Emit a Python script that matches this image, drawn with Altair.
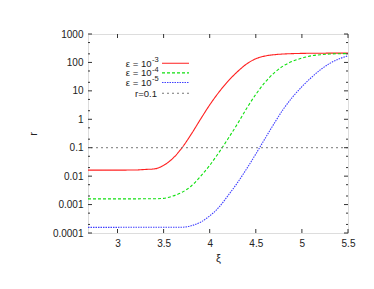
import altair as alt
import pandas as pd

# ---- data ----
x_red = [2.68, 3.0, 3.2, 3.3, 3.4, 3.5, 3.6, 3.7, 3.8, 3.9, 4.0, 4.1, 4.2, 4.3, 4.4, 4.5, 4.6, 4.7, 4.8, 4.9, 5.0, 5.2, 5.5]
r_red = [0.0163, 0.0163, 0.0165, 0.0172, 0.018, 0.024, 0.042, 0.1, 0.3, 1.0, 3.2, 9, 22, 47, 88, 135, 168, 187, 198, 204, 208, 211, 213]

x_green = [2.68, 3.4, 3.5, 3.6, 3.7, 3.8, 3.9, 4.0, 4.1, 4.2, 4.3, 4.4, 4.5, 4.6, 4.7, 4.8, 4.9, 5.0, 5.1, 5.2, 5.3, 5.4, 5.5]
r_green = [0.00158, 0.0016, 0.00165, 0.002, 0.0027, 0.0045, 0.0098, 0.024, 0.068, 0.21, 0.68, 2.4, 7.5, 20, 43, 76, 110, 142, 170, 187, 197, 202, 205]

x_blue = [2.68, 3.7, 3.8, 3.9, 4.0, 4.1, 4.2, 4.3, 4.4, 4.5, 4.6, 4.7, 4.8, 4.9, 5.0, 5.1, 5.2, 5.3, 5.4, 5.5]
r_blue = [0.000158, 0.00016, 0.00018, 0.00024, 0.0004, 0.0008, 0.0021, 0.0058, 0.018, 0.06, 0.21, 0.72, 2.3, 6.1, 14, 29, 55, 92, 132, 170]

series_names = ["ε = 10⁻³", "ε = 10⁻⁴", "ε = 10⁻⁵"]
legend_base = ["ε = 10", "ε = 10", "ε = 10"]
legend_exp = ["-3", "-4", "-5"]
series_colors = ["#ff2020", "#10e010", "#4040ff"]
series_dash = [[1, 0], [3, 2], [1.5, 1]]
ref_label = "r=0.1"
ref_value = 0.1

y_major = [0.0001, 0.001, 0.01, 0.1, 1, 10, 100, 1000]
y_minor = [m * d for d in [0.0001, 0.001, 0.01, 0.1, 1, 10, 100] for m in (2, 5)]
x_major = [3, 3.5, 4, 4.5, 5, 5.5]
x_domain = [2.68, 5.5]
y_domain = [0.0001, 1000]

W, H = 260, 199
FONT = "Liberation Sans"

rows = []
for name, xs_, ys_ in zip(series_names, [x_red, x_green, x_blue], [r_red, r_green, r_blue]):
    for a, b in zip(xs_, ys_):
        rows.append({"xi": a, "r": b, "s": name})
df = pd.DataFrame(rows)

xs = alt.Scale(domain=x_domain, nice=False, zero=False)
ys = alt.Scale(type="log", domain=y_domain, nice=False)

xaxis = alt.Axis(values=x_major, format="~g", ticks=False, domain=False, grid=False,
                 labelFlush=False, labelOverlap=False,
                 labelFontSize=10, labelFont=FONT, labelColor="#222", labelPadding=5,
                 title="ξ", titleFont=FONT, titleFontSize=11, titleFontWeight="normal",
                 titlePadding=4, titleColor="#222")
yaxis = alt.Axis(values=y_major, format="~g", ticks=False, domain=False, grid=False,
                 labelFlush=False, labelOverlap=False,
                 labelFontSize=10, labelFont=FONT, labelColor="#222", labelPadding=5,
                 title="r", titleFont=FONT, titleFontSize=11, titleFontWeight="normal",
                 titlePadding=14, titleColor="#222")

lines = alt.Chart(df).mark_line(strokeWidth=1.1, clip=True, interpolate="monotone").encode(
    x=alt.X("xi:Q", scale=xs, axis=xaxis),
    y=alt.Y("r:Q", scale=ys, axis=yaxis),
    color=alt.Color("s:N", scale=alt.Scale(domain=series_names, range=series_colors), legend=None),
    strokeDash=alt.StrokeDash("s:N", scale=alt.Scale(domain=series_names, range=series_dash), legend=None),
)

hline = alt.Chart(pd.DataFrame({"r": [ref_value]})).mark_rule(
    color="#777", strokeWidth=1, strokeDash=[2, 3]).encode(
    y=alt.Y("r:Q", scale=ys))

ydf_major = pd.DataFrame({"r": y_major})
ydf_minor = pd.DataFrame({"r": y_minor})
xdf_major = pd.DataFrame({"xi": x_major})

def yticks(d, length):
    left = alt.Chart(d).mark_rule(color="#333", strokeWidth=1).encode(
        y=alt.Y("r:Q", scale=ys), x=alt.value(0), x2=alt.value(length))
    right = alt.Chart(d).mark_rule(color="#333", strokeWidth=1).encode(
        y=alt.Y("r:Q", scale=ys), x=alt.value(W - length), x2=alt.value(W))
    return [left, right]

def xticks(d, length):
    bottom = alt.Chart(d).mark_rule(color="#333", strokeWidth=1).encode(
        x=alt.X("xi:Q", scale=xs), y=alt.value(H - length), y2=alt.value(H))
    top = alt.Chart(d).mark_rule(color="#333", strokeWidth=1).encode(
        x=alt.X("xi:Q", scale=xs), y=alt.value(0), y2=alt.value(length))
    return [bottom, top]

tick_layers = yticks(ydf_major, 4) + yticks(ydf_minor, 2) + xticks(xdf_major, 4)

# legend (gnuplot style: label right-aligned, sample to its right)
legend_layers = []
one = pd.DataFrame({"k": [0]})
for i in range(4):
    yy = 29.3 + i * 9.6
    if i < 3:
        col, dsh = series_colors[i], series_dash[i]
        legend_layers.append(alt.Chart(one).mark_text(
            align="right", baseline="middle", font=FONT, fontSize=9.5, color="#222").encode(
            x=alt.value(63.5), y=alt.value(yy + 0.5), text=alt.value(legend_base[i])))
        legend_layers.append(alt.Chart(one).mark_text(
            align="left", baseline="middle", font=FONT, fontSize=7.5, color="#222").encode(
            x=alt.value(64), y=alt.value(yy - 3.2), text=alt.value(legend_exp[i])))
    else:
        yy += 1.2
        col, dsh = "#777", [2, 3]
        legend_layers.append(alt.Chart(one).mark_text(
            align="right", baseline="middle", font=FONT, fontSize=9.5, color="#222").encode(
            x=alt.value(69), y=alt.value(yy + 0.8), text=alt.value(ref_label)))
    legend_layers.append(alt.Chart(one).mark_rule(
        color=col, strokeWidth=1.1, strokeDash=dsh).encode(
        x=alt.value(74), x2=alt.value(101), y=alt.value(yy)))

chart = alt.layer(lines, hline, *tick_layers, *legend_layers).properties(
    width=W, height=H,
    autosize=alt.AutoSizeParams(type="none"),
    padding={"left": 80, "top": 26, "right": 12, "bottom": 45},
).configure_view(stroke="#222", strokeWidth=1).configure(background="white")

chart.save("out.html", embed_options={"renderer": "svg", "actions": False})
